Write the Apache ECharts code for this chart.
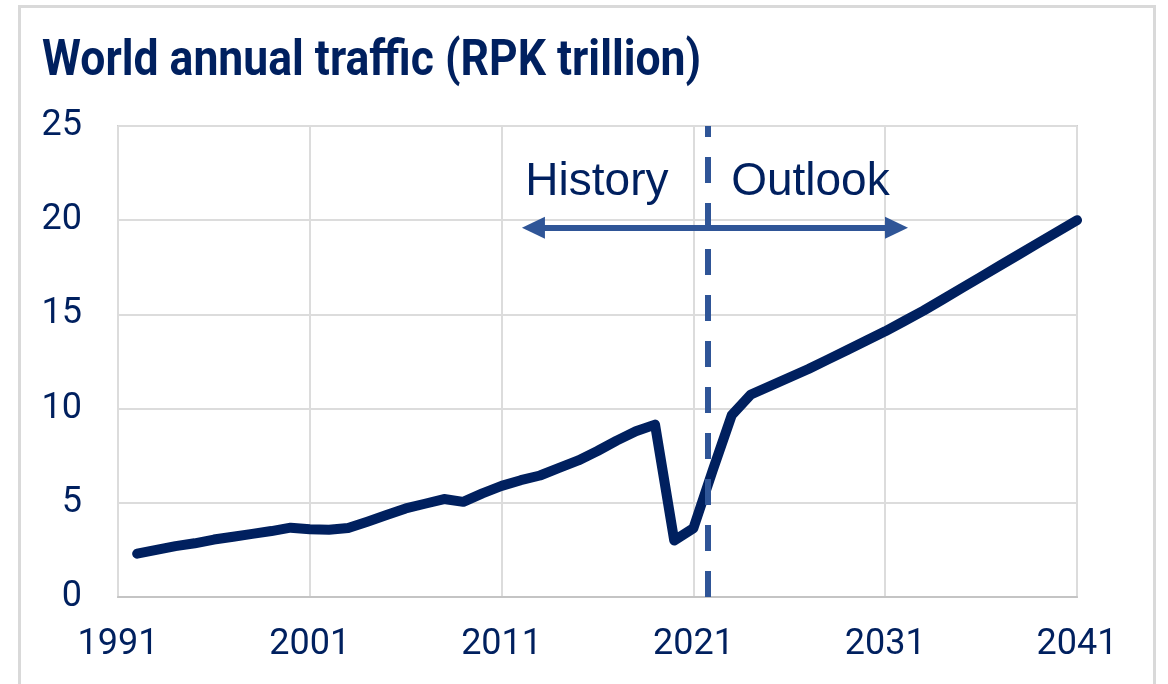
<!DOCTYPE html>
<html>
<head>
<meta charset="utf-8">
<script src="https://cdn.jsdelivr.net/npm/echarts@6/dist/echarts.min.js"></script>
<style>
html,body{margin:0;padding:0;background:#fff;}
#chart{width:1168px;height:684px;}
</style>
</head>
<body>
<div id="chart"></div>
<script>
const titleText = 'World annual traffic (RPK trillion)';
const years = [1992,1993,1994,1995,1996,1997,1998,1999,2000,2001,2002,2003,2004,2005,2006,2007,2008,2009,2010,2011,2012,2013,2014,2015,2016,2017,2018,2019,2020,2021,2022,2023,2024,2025,2026,2027,2028,2029,2030,2031,2032,2033,2034,2035,2036,2037,2038,2039,2040,2041];
const rpk = [2.3,2.5,2.7,2.85,3.05,3.2,3.35,3.5,3.68,3.6,3.57,3.66,4.0,4.35,4.7,4.95,5.2,5.05,5.5,5.9,6.2,6.45,6.85,7.25,7.75,8.3,8.8,9.15,3.0,3.65,6.7,9.65,10.75,11.2,11.65,12.1,12.6,13.1,13.6,14.1,14.65,15.2,15.8,16.4,17.0,17.6,18.2,18.8,19.4,20.0];
const xTicks = [1991,2001,2011,2021,2031,2041];
const yTicks = [0,5,10,15,20,25];
const splitYear = 2021.75;
const arrowFrom = [2012.66, 19.6];
const arrowTo = [2031.59, 19.6];
const annoHistory = 'History';
const annoOutlook = 'Outlook';

const navy = '#00205F';
const blue = '#2F5597';
const chart = echarts.init(document.getElementById('chart'), null, {renderer:'canvas'});
const data = years.map((y,i)=>[y, rpk[i]]);
chart.setOption({
  animation:false,
  backgroundColor:'#fff',
  graphic:[{
    type:'rect', shape:{x:19.5,y:6.5,width:1135,height:720},
    style:{fill:'none',stroke:'#d9d9d9',lineWidth:3}, z:0, silent:true
  },{
    type:'text', left:42, top:37, scaleX:0.89, originX:42,
    style:{text:titleText, font:'bold 50px Roboto', fill:navy}
  }],
  grid:{left:118,right:91,top:126,bottom:87,show:true,borderColor:'#cfcfcf',borderWidth:2},
  xAxis:{
    type:'value', min:xTicks[0], max:xTicks[xTicks.length-1], interval:10,
    axisLine:{show:true,lineStyle:{color:'#c4c4c4',width:2}},
    axisTick:{show:false},
    axisLabel:{color:navy,fontFamily:'Roboto',fontSize:36,margin:30,formatter:v=>String(v)},
    splitLine:{show:true,lineStyle:{color:'#dcdcdc',width:2}}
  },
  yAxis:{
    type:'value', min:yTicks[0], max:yTicks[yTicks.length-1], interval:5,
    axisLine:{show:false}, axisTick:{show:false},
    axisLabel:{color:navy,fontFamily:'Roboto',fontSize:36,margin:36},
    splitLine:{show:true,lineStyle:{color:'#dcdcdc',width:2}}
  },
  series:[{
    type:'line', data:data, symbol:'none', smooth:false,
    lineStyle:{color:navy,width:10,cap:'round',join:'round'},
    z:3,
    markLine:{
      silent:true, animation:false, z:5,
      data:[
        [{xAxis:splitYear, yAxis:yTicks[0], symbol:'none', lineStyle:{type:[26,20],width:6,color:blue}},
         {xAxis:splitYear, yAxis:yTicks[yTicks.length-1], symbol:'none'}],
        [{coord:arrowFrom, symbol:'triangle', symbolSize:[22,23]},{coord:arrowTo, symbol:'triangle', symbolSize:[22,23]}]
      ],
      lineStyle:{color:blue,width:6,type:'solid',opacity:1},
      label:{show:false}
    },
    markPoint:{
      silent:true, symbol:'circle', symbolSize:0,
      data:[
        {coord:[2015.97,22.0], label:{formatter:annoHistory}},
        {coord:[2027.1,22.0], label:{formatter:annoOutlook}}
      ],
      label:{show:true,position:'inside',color:navy,fontFamily:'Liberation Sans',fontSize:46}
    }
  }]
});
</script>
</body>
</html>
